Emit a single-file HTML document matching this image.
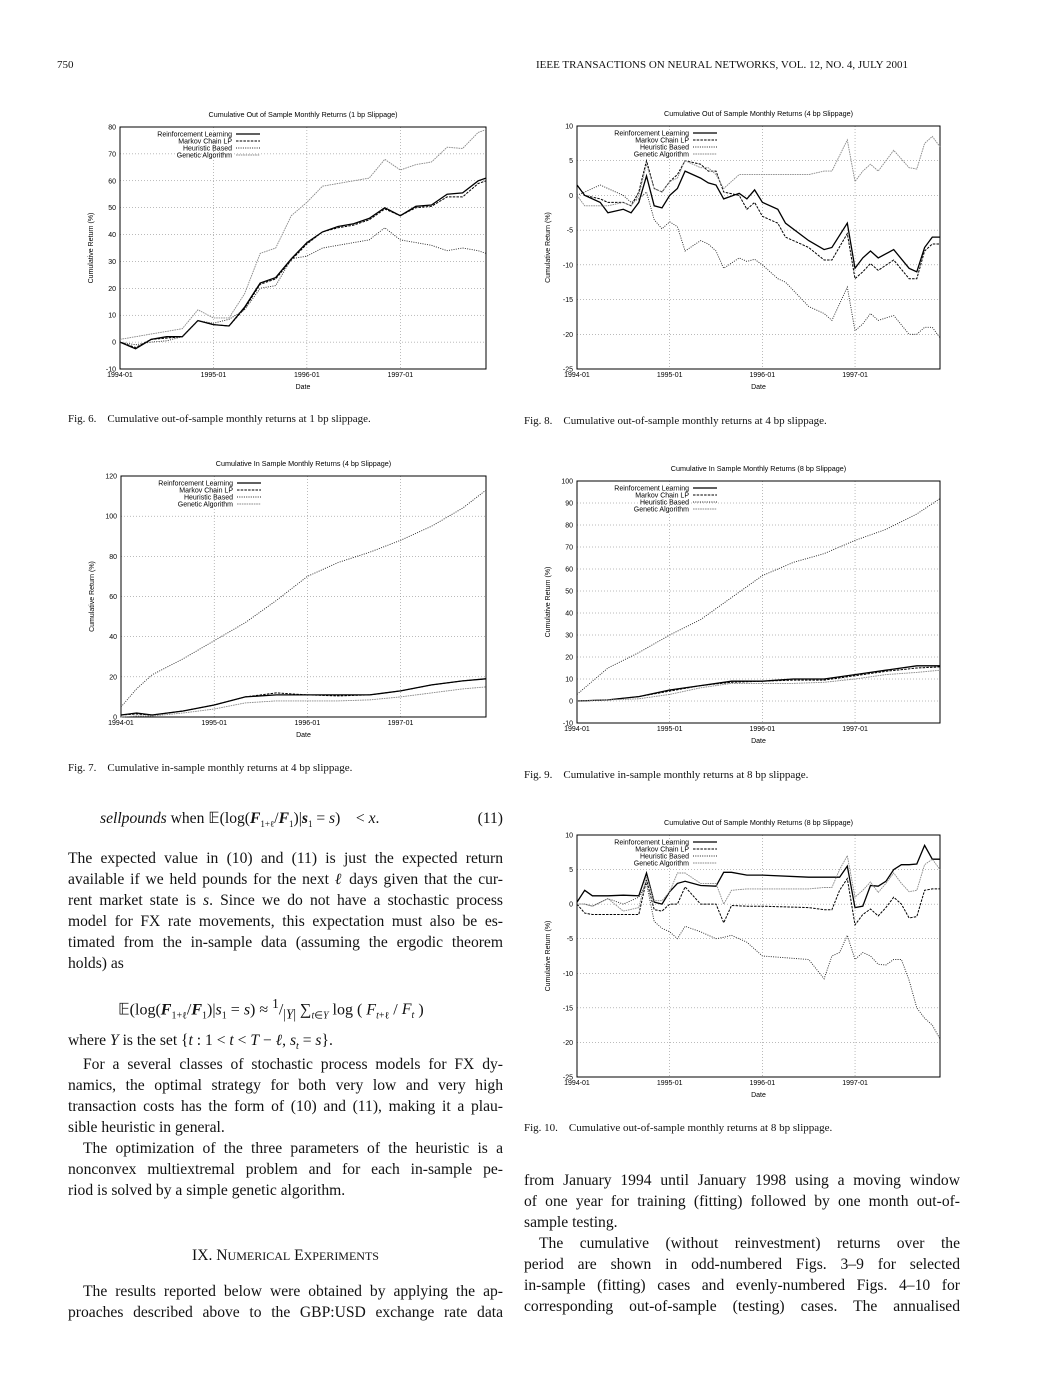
<!DOCTYPE html>
<html><head><meta charset="utf-8">
<style>
body{margin:0;background:#fff;}
#page{position:relative;width:1061px;height:1373px;overflow:hidden;background:#fff;font-family:"Liberation Serif",serif;color:#111;}
.t{position:absolute;font-size:15.6px;line-height:21px;white-space:nowrap;}
.j{text-align:justify;text-align-last:justify;white-space:normal;}
.cap{position:absolute;font-size:11px;font-family:"Liberation Serif",serif;white-space:nowrap;}
svg{position:absolute;left:0;top:0;}
svg text{font-family:"Liberation Sans",sans-serif;}
</style></head><body>
<div id="page">
<div class="t" style="left:57px;top:55px;font-size:11px;">750</div>
<div class="t" style="left:536px;top:55px;font-size:11px;">IEEE TRANSACTIONS ON NEURAL NETWORKS, VOL. 12, NO. 4, JULY 2001</div>

<svg id="charts" width="1061" height="1373"></svg>

<div class="cap" style="left:68px;top:413px;">Fig. 6.&nbsp;&nbsp;&nbsp;&nbsp;Cumulative out-of-sample monthly returns at 1 bp slippage.</div>
<div class="cap" style="left:68px;top:762px;">Fig. 7.&nbsp;&nbsp;&nbsp;&nbsp;Cumulative in-sample monthly returns at 4 bp slippage.</div>
<div class="cap" style="left:524px;top:415px;">Fig. 8.&nbsp;&nbsp;&nbsp;&nbsp;Cumulative out-of-sample monthly returns at 4 bp slippage.</div>
<div class="cap" style="left:524px;top:769px;">Fig. 9.&nbsp;&nbsp;&nbsp;&nbsp;Cumulative in-sample monthly returns at 8 bp slippage.</div>
<div class="cap" style="left:524px;top:1122px;">Fig. 10.&nbsp;&nbsp;&nbsp;&nbsp;Cumulative out-of-sample monthly returns at 8 bp slippage.</div>

<div class="t" style="left:100px;top:808px;width:403px;"><i>sellpounds</i> when 𝔼(log(<b><i>F</i></b><sub style="font-size:9px">1+ℓ</sub>/<b><i>F</i></b><sub style="font-size:9px">1</sub>)|<b><i>s</i></b><sub style="font-size:9px">1</sub> = <i>s</i>)&nbsp;&nbsp;&nbsp; &lt; <i>x</i>.<span style="position:absolute;right:0">(11)</span></div>
<div>
<div class="t j" style="left:68px;top:848px;width:435px;">The expected value in (10) and (11) is just the expected return</div>
<div class="t j" style="left:68px;top:869px;width:435px;">available if we held pounds for the next <i>ℓ</i> days given that the cur-</div>
<div class="t j" style="left:68px;top:890px;width:435px;">rent market state is <i>s</i>. Since we do not have a stochastic process</div>
<div class="t j" style="left:68px;top:911px;width:435px;">model for FX rate movements, this expectation must also be es-</div>
<div class="t j" style="left:68px;top:932px;width:435px;">timated from the in-sample data (assuming the ergodic theorem</div>
<div class="t" style="left:68px;top:953px;">holds) as</div>
<div class="t" style="left:118px;top:993px;font-size:16px;">𝔼(log(<b><i>F</i></b><sub style="font-size:10px">1+ℓ</sub>/<b><i>F</i></b><sub style="font-size:10px">1</sub>)|<i>s</i><sub style="font-size:10px">1</sub> = <i>s</i>) ≈ <sup>1</sup>/<sub>|<i>Y</i>|</sub> ∑<sub style="font-size:10px"><i>t</i>∈<i>Y</i></sub> log ( <i>F</i><sub style="font-size:10px"><i>t</i>+ℓ</sub> / <i>F<sub style="font-size:10px">t</sub></i> )</div>
<div class="t" style="left:68px;top:1030px;">where <i>Y</i> is the set {<i>t</i> : 1 &lt; <i>t</i> &lt; <i>T</i> − <i>ℓ</i>, <i>s<sub style="font-size:10px">t</sub></i> = <i>s</i>}.</div>
<div class="t j" style="left:83px;top:1054px;width:420px;">For a several classes of stochastic process models for FX dy-</div>
<div class="t j" style="left:68px;top:1075px;width:435px;">namics, the optimal strategy for both very low and very high</div>
<div class="t j" style="left:68px;top:1096px;width:435px;">transaction costs has the form of (10) and (11), making it a plau-</div>
<div class="t" style="left:68px;top:1117px;">sible heuristic in general.</div>
<div class="t j" style="left:83px;top:1138px;width:420px;">The optimization of the three parameters of the heuristic is a</div>
<div class="t j" style="left:68px;top:1159px;width:435px;">nonconvex multiextremal problem and for each in-sample pe-</div>
<div class="t" style="left:68px;top:1180px;">riod is solved by a simple genetic algorithm.</div>
<div class="t" style="left:68px;top:1245px;width:435px;text-align:center;">IX. N<span style="font-size:12px">UMERICAL</span> E<span style="font-size:12px">XPERIMENTS</span></div>
<div class="t j" style="left:83px;top:1281px;width:420px;">The results reported below were obtained by applying the ap-</div>
<div class="t j" style="left:68px;top:1302px;width:435px;">proaches described above to the GBP:USD exchange rate data</div>
</div>
<div>
<div class="t j" style="left:524px;top:1170px;width:436px;">from January 1994 until January 1998 using a moving window</div>
<div class="t j" style="left:524px;top:1191px;width:436px;">of one year for training (fitting) followed by one month out-of-</div>
<div class="t" style="left:524px;top:1212px;">sample testing.</div>
<div class="t j" style="left:539px;top:1233px;width:421px;">The cumulative (without reinvestment) returns over the</div>
<div class="t j" style="left:524px;top:1254px;width:436px;">period are shown in odd-numbered Figs. 3–9 for selected</div>
<div class="t j" style="left:524px;top:1275px;width:436px;">in-sample (fitting) cases and evenly-numbered Figs. 4–10 for</div>
<div class="t j" style="left:524px;top:1296px;width:436px;">corresponding out-of-sample (testing) cases. The annualised</div>
</div>
</div>

<script>
// ---- Data (month index from 1994-01, cumulative return %) ----
const xTickLabels = ["1994-01","1995-01","1996-01","1997-01"];
const xTickMonths = [0,12,24,36];
const seriesNames = ["Reinforcement Learning","Markov Chain LP","Heuristic Based","Genetic Algorithm"];

const f6Months = [0,2,4,6,8,10,12,14,16,18,20,22,24,26,28,30,32,34,36,38,40,42,44,46,47];
const f6RL = [0,-2.5,1,2,2,8,6.5,6,13,22,24,31,37,41,43,44,46,50,47,50.5,51,55,55.5,60,61];
const f6MC = [0,-2,1,1.5,2,8,6.5,6,12.5,21.5,23.5,30.5,36.5,41,42.5,43.5,45.5,49.5,47,50,50.5,54,54,59,60];
const f6HB = [0,-1,0,0.5,2,8,7,8.5,12,20,21,31,32,35,36,37,38,42.5,38,37,36,34,35,34,33];
const f6GA = [1,2,3,4,5,12,9,9,18,33,35,47,52,58,59,60,61,68,64,66,67,72.5,72,78,79];
const f6YTicks = [-10,0,10,20,30,40,50,60,70,80];

const f7Months = [0,2,4,8,12,16,20,24,28,32,36,40,44,47];
const f7RL = [1,2,1,3,6,10,11,11,11,11,13,16,18,19];
const f7MC = [1,1.5,1,3,6,10,12,11,10.5,11,13,16,18,19];
const f7HB = [5,14,21,29,38,47,58,70,77,82,88,95,104,113];
const f7GA = [0,0.5,0.5,2,4,7,8,8,8,8.5,10,12,14,15];
const f7YTicks = [0,20,40,60,80,100,120];

const f8Months = [0,1,3,4,6,7,8,9,10,11,12,13,14,16,17,18,19,21,22,23,24,26,27,30,32,33,35,36,37,38,39,41,43,44,45,46,47];
const f8RL = [1.5,0,-1,-2.5,-2,-2.5,-1,2.8,-1.5,-1.8,0,1,3.5,2.5,1.8,1.5,-0.5,0.3,-0.5,0.8,-1,-2,-4,-6.5,-7.8,-7.5,-4,-10.5,-9,-8,-9,-7.8,-10.5,-11,-7.5,-6,-6];
const f8MC = [1.5,0,-0.5,-1,-1,-1.5,0.5,5,1,0.5,2,3,5,4.5,3.5,3.5,0.5,0,-2,-1,-3,-4,-6,-7.5,-9.3,-9.3,-5.5,-12,-11,-9.8,-10.8,-9.3,-12,-12,-8,-7,-7];
const f8HB = [0,0.5,1.5,1,0,-1,-0.5,0.5,-3.5,-4.8,-3.8,-4.5,-8,-6.5,-7,-8,-10.5,-9,-9.5,-9.2,-10,-12,-12.5,-16,-17,-18,-13.2,-19.5,-18.5,-17,-18,-17.3,-20,-20,-19,-19,-20.5];
const f8GA = [0,-1.5,-1.5,-1.5,-1,-1.5,0,4.5,1,0.5,2,2.5,5,4,4,3,1,3,3,3,3,3,3,3,3.5,3.5,8,2,3.5,4.5,3.5,6.5,4,3.8,7.5,8.5,7];
const f8YTicks = [-25,-20,-15,-10,-5,0,5,10];

const f9Months = [0,4,8,12,16,20,24,28,32,36,40,44,47];
const f9RL = [0,0.5,2,5,7,9,9,10,10,12,14,16,16];
const f9MC = [0,0.5,2,4.5,7,8.5,9,9.5,9.5,11.5,13.5,15,15.5];
const f9HB = [3,15,22,30,37,47,57,63,67,73,78,85,92];
const f9GA = [0,0.5,1,3,6,8,8,8,8.5,10,12,13,14];
const f9YTicks = [-10,0,10,20,30,40,50,60,70,80,90,100];

const f10Months = [0,1,2,4,6,8,9,10,11,12,13,14,16,18,19,20,22,24,30,32,33,34,35,36,37,38,39,40,41,42,43,44,45,46,47];
const f10RL = [0.3,2,1.2,1.2,1.3,1.2,4.5,0.3,0,1.8,3,3.3,2.7,2.6,4.6,4.6,4.2,4.2,3.9,3.9,3.9,3.9,5.5,-0.5,-0.3,2.7,2.6,3.3,5,5.7,5.7,5.8,8.5,6.5,6.5];
const f10MC = [0,-1.3,-1.5,-1.5,-1.5,-1.5,3.5,-0.8,-1,0,0,2.5,0,0,-2.7,-0.2,-0.3,-0.3,-0.5,-0.8,-0.8,2,3.7,-3,-1.5,-0.7,-1.7,-0.5,1,0,-2,-1.8,2,2.2,2.2];
const f10HB = [0,0,-0.3,0.8,0,1,3,-2.5,-3.5,-4,-5,-3.2,-4,-5,-4.8,-4.5,-5.5,-7.5,-8,-10.8,-7.5,-7,-4.5,-8,-7,-7.5,-8.7,-8.8,-8,-8,-11,-15,-16.5,-17.5,-19.5];
const f10GA = [0,0,-0.3,0.8,-1,-0.5,4,0.5,0.5,1.8,4.5,4.5,3,3,0,2,2.2,2.2,2.2,2.4,2.4,5,7,1,2,3.2,1.7,3,4.5,3,1.8,2,5.7,6.5,5];
const f10YTicks = [-25,-20,-15,-10,-5,0,5,10];

const NS="http://www.w3.org/2000/svg";
const svg=document.getElementById('charts');
function mk(tag,attrs,parent){const e=document.createElementNS(NS,tag);for(const k in attrs)e.setAttribute(k,attrs[k]);(parent||svg).appendChild(e);return e;}
const styles=[{stroke:"#000",w:1.3,dash:""},{stroke:"#000",w:1,dash:"2.5,1.2"},{stroke:"#222",w:0.9,dash:"1,1.3"},{stroke:"#888",w:0.9,dash:"1.6,0.8"}];

function chart(id,box,title,yTicks,months,series){
  const g=mk('g',{});
  
  
  const ymin=yTicks[0],ymax=yTicks[yTicks.length-1];
  const xs=m=>box.l+m/47*(box.r-box.l);
  const ys=v=>box.b-(v-ymin)/(ymax-ymin)*(box.b-box.t);
  yTicks.forEach(v=>{
    if(v!==ymin&&v!==ymax){const gl=mk('line',{x1:box.l,x2:box.r,y1:ys(v),y2:ys(v),stroke:"#777","stroke-width":0.5,"stroke-dasharray":"1,2"},g);
    
    }
    const tl=mk('text',{x:box.l-4,y:ys(v)+2.5,"font-size":7,"text-anchor":"end"},g);tl.textContent=v;
    
    
  });
  xTickMonths.forEach((m,i)=>{
    if(m>0){const vl=mk('line',{x1:xs(m),x2:xs(m),y1:box.t,y2:box.b,stroke:"#777","stroke-width":0.5,"stroke-dasharray":"1,2"},g);
    
    }
    const tl=mk('text',{x:xs(m),y:box.b+8,"font-size":7,"text-anchor":"middle"},g);tl.textContent=xTickLabels[i];
    
    
  });
  const fr=mk('rect',{x:box.l,y:box.t,width:box.r-box.l,height:box.b-box.t,fill:"none",stroke:"#000","stroke-width":1},g);
  
  
  const tt=mk('text',{x:(box.l+box.r)/2,y:box.t-10,"font-size":7.2,"text-anchor":"middle"},g);tt.textContent=title;
  
  
  const xt=mk('text',{x:(box.l+box.r)/2,y:box.b+20,"font-size":7,"text-anchor":"middle"},g);xt.textContent="Date";
  
  
  const yc=(box.t+box.b)/2,yx=box.l-27;
  const yt=mk('text',{x:yx,y:yc,"font-size":7,"text-anchor":"middle",transform:`rotate(-90 ${yx} ${yc})`},g);yt.textContent="Cumulative Return (%)";
  
  
  series.forEach((vals,si)=>{
    const st=styles[si];
    const d=vals.map((v,i)=>(i?'L':'M')+xs(months[i]).toFixed(1)+','+ys(v).toFixed(1)).join('');
    const p=mk('path',{d:d,fill:"none",stroke:st.stroke,"stroke-width":st.w,"stroke-dasharray":st.dash},g);
    
    
    const ly=box.t+7+si*7;
    const lt=mk('text',{x:box.l+112,y:ly+2.3,"font-size":7,"text-anchor":"end"},g);lt.textContent=seriesNames[si];
    
    
    const ll=mk('line',{x1:box.l+116,x2:box.l+140,y1:ly,y2:ly,stroke:st.stroke,"stroke-width":st.w,"stroke-dasharray":st.dash},g);
    
    
  });
}
chart('fig6-chart',{l:120,r:486,t:127,b:369},"Cumulative Out of Sample Monthly Returns (1 bp Slippage)",f6YTicks,f6Months,[f6RL,f6MC,f6HB,f6GA]);
chart('fig7-chart',{l:121,r:486,t:476,b:717},"Cumulative In Sample Monthly Returns (4 bp Slippage)",f7YTicks,f7Months,[f7RL,f7MC,f7HB,f7GA]);
chart('fig8-chart',{l:577,r:940,t:126,b:369},"Cumulative Out of Sample Monthly Returns (4 bp Slippage)",f8YTicks,f8Months,[f8RL,f8MC,f8HB,f8GA]);
chart('fig9-chart',{l:577,r:940,t:481,b:723},"Cumulative In Sample Monthly Returns (8 bp Slippage)",f9YTicks,f9Months,[f9RL,f9MC,f9HB,f9GA]);
chart('fig10-chart',{l:577,r:940,t:835,b:1077},"Cumulative Out of Sample Monthly Returns (8 bp Slippage)",f10YTicks,f10Months,[f10RL,f10MC,f10HB,f10GA]);
</script>
</body></html>
